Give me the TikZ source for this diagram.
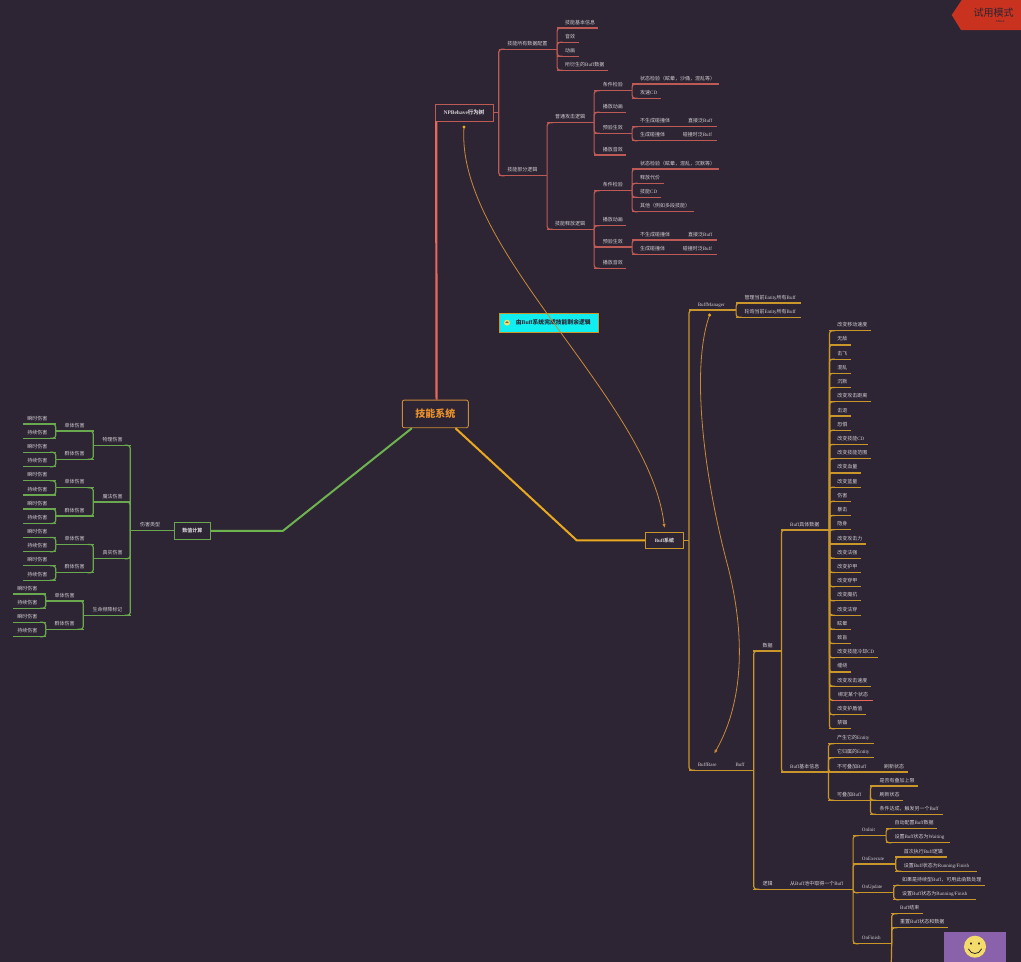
\documentclass[tikz,border=0pt]{standalone}
\usepackage{fontspec}
\usetikzlibrary{arrows.meta}
\setmainfont{Noto Sans CJK SC}
\newfontfamily\enfont{Liberation Serif}
\newcommand{\en}[1]{{\enfont #1}}
\definecolor{bgdark}{HTML}{2D2533}
\definecolor{labeltext}{HTML}{D2CED4}
\definecolor{redline}{HTML}{BC5A56}
\definecolor{redmain}{HTML}{E8695C}
\definecolor{greenline}{HTML}{6AA84F}
\definecolor{greenmain}{HTML}{6DB350}
\definecolor{goldline}{HTML}{C9962B}
\definecolor{goldmain}{HTML}{EAA91F}
\definecolor{relline}{HTML}{C98A3A}
\definecolor{centertext}{HTML}{E8912D}
\definecolor{notecyan}{HTML}{10EEF0}
\definecolor{stickerpurple}{HTML}{8A62AC}
\definecolor{stickerface}{HTML}{F4DC6A}
\definecolor{ribbonred}{HTML}{C8321E}
\tikzset{
  topic/.style={anchor=south west, inner xsep=0pt, inner ysep=3pt, text depth=0.8pt, text height=4.5pt,
    text=labeltext, font=\fontsize{5}{6}\selectfont},
  mainbox/.style={draw, line width=0.9pt, fill=bgdark, inner sep=0pt, text=labeltext, font=\fontsize{5}{6}\selectfont\bfseries},
  relation/.style={draw=relline, line width=0.8pt},
  branch/.style={draw=redline, line width=1.2pt},
}
% name, x, y of the underline, width, text offset, text
\newcommand{\topicnode}[6]{%
  \node[topic] (#1) at ({#2},{#3}) {\makebox[#4pt][l]{\hspace{#5pt}#6}};
  \draw[branch] (#1.south west) -- (#1.south east);}
% parent and its children, growing right / left
\newcommand{\linkr}[2]{\foreach \c in {#2}{\draw[branch, rounded corners=3pt] (#1.south east) |- ([xshift=6pt]\c.south west);}}
\newcommand{\linkl}[2]{\foreach \c in {#2}{\draw[branch, rounded corners=3pt] (#1.south west) |- ([xshift=-6pt]\c.south east);}}
\begin{document}
\begin{tikzpicture}[x=1pt,y=-1pt]
\fill[bgdark] (0,0) rectangle (1021,962);
\useasboundingbox (0,0) rectangle (1021,962);

% centre and main boxes
\node[draw=relline, line width=0.9pt, rounded corners=2pt, fill=bgdark, minimum width=66pt, minimum height=27.7pt,
  inner sep=0pt, text=centertext, font=\fontsize{10}{12}\selectfont\bfseries] (center) at (435.3,413.9) {技能系统};
\node[mainbox, draw=redline, minimum width=58pt, minimum height=17pt, font=\fontsize{5.5}{6}\selectfont\bfseries] (npb) at (464,112.5) {\en{NPBehave}行为树};
\node[mainbox, draw=greenline, minimum width=36.7pt, minimum height=17pt] (calc) at (192.4,530.8) {数值计算};
\node[mainbox, draw=goldline, minimum width=38.4pt, minimum height=16.7pt] (buffsys) at (664.5,540.3) {\en{Buff}系统};

\coordinate (greenbend) at (283,530.8);
\coordinate (goldbend) at (576.7,540.3);
\draw[redmain, line width=2.2pt] ([xshift=1.3pt]center.north) -- ([xshift=1.6pt]npb.south west);
\draw[greenmain, line width=2pt] ([xshift=10pt]center.south west) -- (greenbend) -- (calc.east);
\draw[goldmain, line width=2pt] ([xshift=-13.3pt]center.south east) -- (goldbend) -- (buffsys.west);

% NPBehave branch
\coordinate (npbtrunk) at (498.7,112.5);
\draw[branch] (npb.east) -- (npbtrunk);
\topicnode{cfg}{498.7}{49.3}{58}{8.5}{技能所有数据配置}
\topicnode{logic}{498.7}{175.7}{48}{8.5}{技能部分逻辑}
\foreach \c in {cfg,logic}{\draw[branch, rounded corners=3pt] (npbtrunk) |- ([xshift=6pt]\c.south west);}
\topicnode{cfga}{556.7}{28}{41.3}{8.3}{技能基本信息}
\topicnode{cfgb}{556.7}{42.3}{22}{8.3}{音效}
\topicnode{cfgc}{556.7}{56.3}{22}{8.3}{动画}
\topicnode{cfgd}{556.7}{70.3}{51}{8.3}{所衍生的\en{Buff}数据}
\linkr{cfg}{cfga,cfgb,cfgc,cfgd}
\topicnode{atk}{546.7}{122.7}{47}{8.3}{普通攻击逻辑}
\topicnode{cast}{546.7}{229.3}{47}{8.3}{技能释放逻辑}
\linkr{logic}{atk,cast}
% attack and cast have the same four steps
\foreach \g/\ya/\yb/\yc/\yd in {atk/90.7/112.3/133.3/155, cast/190.7/225.7/247/268.3}{
  \topicnode{\g a}{593.7}{\ya}{38}{9}{条件检验}
  \topicnode{\g b}{593.7}{\yb}{32.3}{9}{播放动画}
  \topicnode{\g c}{593.7}{\yc}{38}{9}{预验生效}
  \topicnode{\g d}{593.7}{\yd}{32.3}{9}{播放音效}
  \linkr{\g}{\g a,\g b,\g c,\g d}
}
\topicnode{atkaa}{631.7}{84}{87}{8.3}{状态检验（眩晕，沙俑，混乱等）}
\topicnode{atkab}{631.7}{98.3}{29}{8.3}{攻速\en{CD}}
\linkr{atka}{atkaa,atkab}
\topicnode{castaa}{631.7}{169}{87}{8.3}{状态检验（眩晕，混乱，沉默等）}
\topicnode{castab}{631.7}{183.3}{32}{8.3}{释放代价}
\topicnode{castac}{631.7}{197.3}{29}{8.3}{技能\en{CD}}
\topicnode{castad}{631.7}{211.7}{62}{8.3}{其他（例如多段技能）}
\linkr{casta}{castaa,castab,castac,castad}
\foreach \g/\ya/\yb in {atk/126.7/140.7, cast/240/254.3}{
  \topicnode{\g ca}{631.7}{\ya}{48}{8.3}{不生成碰撞体}
  \topicnode{\g cb}{631.7}{\yb}{43}{8.3}{生成碰撞体}
  \topicnode{\g caa}{679.7}{\ya}{36.5}{8.3}{直接泛\en{Buff}}
  \topicnode{\g cba}{674.7}{\yb}{41.5}{8}{碰撞时泛\en{Buff}}
  \linkr{\g c}{\g ca,\g cb}
}

% damage branch
\begin{scope}[branch/.style={draw=greenline, line width=1.2pt}]
\topicnode{kind}{130.3}{530.8}{43.7}{9.7}{伤害类型}
\foreach \g/\lab/\gy/\dx/\gw in {phys/物理伤害/445.3/0/37, magic/魔法伤害/502/0/37, real/真实伤害/558.7/0/37, life/生命频降标记/615.3/-10/47}{
  \topicnode{\g}{130.3-\gw}{\gy}{\gw}{9}{\lab}
  \topicnode{\g s}{55.7+\dx}{\gy-14.3}{37.6}{8.7}{单体伤害}
  \topicnode{\g m}{55.7+\dx}{\gy+14}{37.6}{8.7}{群体伤害}
  \topicnode{\g sa}{23.3+\dx}{\gy-21.3}{32.4}{3.8}{瞬时伤害}
  \topicnode{\g sb}{23.3+\dx}{\gy-7}{32.4}{3.8}{持续伤害}
  \topicnode{\g ma}{23.3+\dx}{\gy+7}{32.4}{3.8}{瞬时伤害}
  \topicnode{\g mb}{23.3+\dx}{\gy+21.4}{32.4}{3.8}{持续伤害}
  \linkl{\g}{\g s,\g m}
  \linkl{\g s}{\g sa,\g sb}
  \linkl{\g m}{\g ma,\g mb}
  \linkl{kind}{\g}
}
\end{scope}

% buff branch
\begin{scope}[branch/.style={draw=goldline, line width=1.2pt}]
\draw[branch] (buffsys.east) -- (689,540.3) coordinate (bufftrunk);
\topicnode{mgr}{689}{310}{46.7}{8.7}{\en{BuffManager}}
\topicnode{base}{689}{770.3}{38}{8.7}{\en{BuffBase}}
\foreach \c in {mgr,base}{\draw[branch, rounded corners=3pt] (bufftrunk) |- ([xshift=6pt]\c.south west);}
\topicnode{mgra}{735.7}{303}{65.3}{8.6}{管理当前\en{Entity}所有\en{Buff}}
\topicnode{mgrb}{735.7}{317.3}{65.3}{8.6}{轮询当前\en{Entity}所有\en{Buff}}
\linkr{mgr}{mgra,mgrb}
\topicnode{buff}{727}{770.3}{26.3}{8.3}{\en{Buff}}
\draw[branch] (base.south east) -- (buff.south west);
\topicnode{data}{753.3}{651}{27.7}{9}{数据}
\topicnode{logc}{753.3}{889.3}{28.7}{9}{逻辑}
\topicnode{pool}{782}{889.3}{70.7}{8}{从\en{Buff}池中取得一个\en{Buff}}
\draw[branch] (logc.south east) -- (pool.south west);
\linkr{buff}{data,logc}
\topicnode{bdata}{781}{530}{48}{9}{\en{Buff}具体数据}
\topicnode{binfo}{781}{772}{47}{9}{\en{Buff}基本信息}
\linkr{data}{bdata,binfo}
\foreach \w/\t [count=\i from 0] in {41.5/改变移动速度,21.5/无敌,21.5/击飞,21.5/混乱,21.5/沉默,41.5/改变攻击距离,21.5/击退,21.5/恐惧,
  39/改变技能\en{CD},41.5/改变技能范围,31.5/改变血量,31.5/改变蓝量,21.5/伤害,21.5/暴击,21.5/隐身,36.5/改变攻击力,31.5/改变法强,
  31.5/改变护甲,31.5/改变穿甲,31.5/改变魔抗,31.5/改变法穿,21.5/眩晕,21.5/致盲,48.5/改变技能冷却\en{CD},21.5/缠绕,41.5/改变攻击速度}{
  \topicnode{d\i}{828.8}{330.7+14.22*\i}{\w}{8.3}{\t}
}
\foreach \w/\t [count=\i from 27] in {36.5/改变护盾值,21.5/禁锢}{
  \topicnode{d\i}{828.8}{330.7+14.22*\i}{\w}{8.3}{\t}
}
\begin{scope}[branch/.style={draw=redmain, line width=1.8pt}]
  \topicnode{d26}{833.3}{700.4}{39.4}{4.7}{绑定某个状态}
\end{scope}
\foreach \i in {0,...,25,27,28}{\linkr{bdata}{d\i}}
\draw[branch, rounded corners=3pt] (bdata.south east) |- (d26.south west);
\topicnode{ia}{828}{743.7}{46}{9}{产生它的\en{Entity}}
\topicnode{ib}{828}{757.7}{46}{9}{它归属的\en{Entity}}
\topicnode{ic}{828}{772}{48}{9}{不可叠加\en{Buff}}
\topicnode{ica}{876}{772}{31.7}{8}{刷新状态}
\draw[branch] (ic.south east) -- (ica.south west);
\topicnode{id}{828}{800.3}{42}{9}{可叠加\en{Buff}}
\linkr{binfo}{ia,ib,ic,id}
\topicnode{ida}{870}{786}{47.7}{9.3}{是否有叠加上限}
\topicnode{idb}{870}{800.3}{32.3}{9.3}{刷新状态}
\topicnode{idc}{870}{814.3}{72.3}{9.3}{条件达成，触发另一个\en{Buff}}
\linkr{id}{ida,idb,idc}
\topicnode{init}{852.7}{835.7}{33}{9}{\en{OnInit}}
\topicnode{exec}{852.7}{864}{42.6}{9}{\en{OnExecute}}
\topicnode{upd}{852.7}{892.7}{40.6}{9}{\en{OnUpdate}}
\topicnode{fin}{852.7}{943.7}{38.6}{9}{\en{OnFinish}}
\linkr{pool}{init,exec,upd,fin}
\topicnode{inita}{885.7}{828.7}{51.3}{8.6}{自动配置\en{Buff}数据}
\topicnode{initb}{885.7}{842.7}{63.6}{8.6}{设置\en{Buff}状态为\en{Waiting}}
\linkr{init}{inita,initb}
\topicnode{execa}{895.3}{857}{51.4}{8.4}{首次执行\en{Buff}逻辑}
\topicnode{execb}{895.3}{871.3}{81.7}{8.4}{设置\en{Buff}状态为\en{Running/Finish}}
\linkr{exec}{execa,execb}
\topicnode{upda}{893.3}{885.3}{91.7}{8.7}{如果是持续型\en{Buff}，可用此函数处理}
\topicnode{updb}{893.3}{899.7}{82.4}{8.7}{设置\en{Buff}状态为\en{Running/Finish}}
\linkr{upd}{upda,updb}
\topicnode{fina}{891.3}{913.7}{31.4}{8.7}{\en{Buff}结束}
\topicnode{finb}{891.3}{927.7}{56.4}{8.7}{重置\en{Buff}状态和数据}
\linkr{fin}{fina,finb}
\coordinate (finend) at (891.3,962);
\draw[branch] (fin.south east) -- (finend);
\end{scope}

% relations
\node[draw=goldline, line width=0.7pt, fill=notecyan, minimum width=99pt, minimum height=18.7pt, inner sep=0pt,
  text=bgdark, font=\fontsize{5.8}{6}\selectfont\bfseries] (note) at (548.5,322.7) {\hspace*{9.6pt}由\en{Buff}系统完成技能剩余逻辑};
\fill[stickerface] (507,322.7) circle (3);
\fill[bgdark] (505.3,322.6) arc (180:360:1.7 and 1.2) -- cycle;
\draw[relation, -{Latex[length=4pt,width=3.4pt]}] ([yshift=-5.5pt]npb.south) .. controls (455,250) and (650,400) .. ([yshift=3.5pt]buffsys.north);
\fill[goldmain] ([yshift=-5.5pt]npb.south) circle (1.7);
\coordinate (relmid) at (727,563);
\draw[relation, -{Latex[length=4pt,width=3.4pt]}] ([xshift=-3pt,yshift=-5pt]mgr.south) .. controls (690,370) and (705,480) .. (relmid) .. controls (745,631) and (745,700) .. ([xshift=6pt,yshift=5pt]base.north);
\fill[goldmain] ([xshift=-3pt,yshift=-5pt]mgr.south) circle (1.7);

% sticker and trial ribbon
\fill[stickerpurple] (943.7,932.3) rectangle (1005.7,962);
\fill[stickerface] (975,946.7) circle (11);
\fill[bgdark] (971,943.5) ellipse (1 and 1.4);
\fill[bgdark] (979,943.5) ellipse (1 and 1.4);
\draw[bgdark, line width=0.8pt, line cap=round] (968.5,949) .. controls (971,955) and (979,955) .. (981.5,949);
\fill[ribbonred] (951.7,15) -- (961.7,0) -- (1021,0) -- (1021,30) -- (961,30) -- cycle;
\node[inner sep=0pt, text=bgdark, font=\fontsize{10}{12}\selectfont] (trial) at (993.5,12.7) {试用模式};
\node[inner sep=0pt, text=bgdark, font=\fontsize{3}{3}\selectfont] (brand) at (1000,21) {\en{XMind}};
\end{tikzpicture}
\end{document}
